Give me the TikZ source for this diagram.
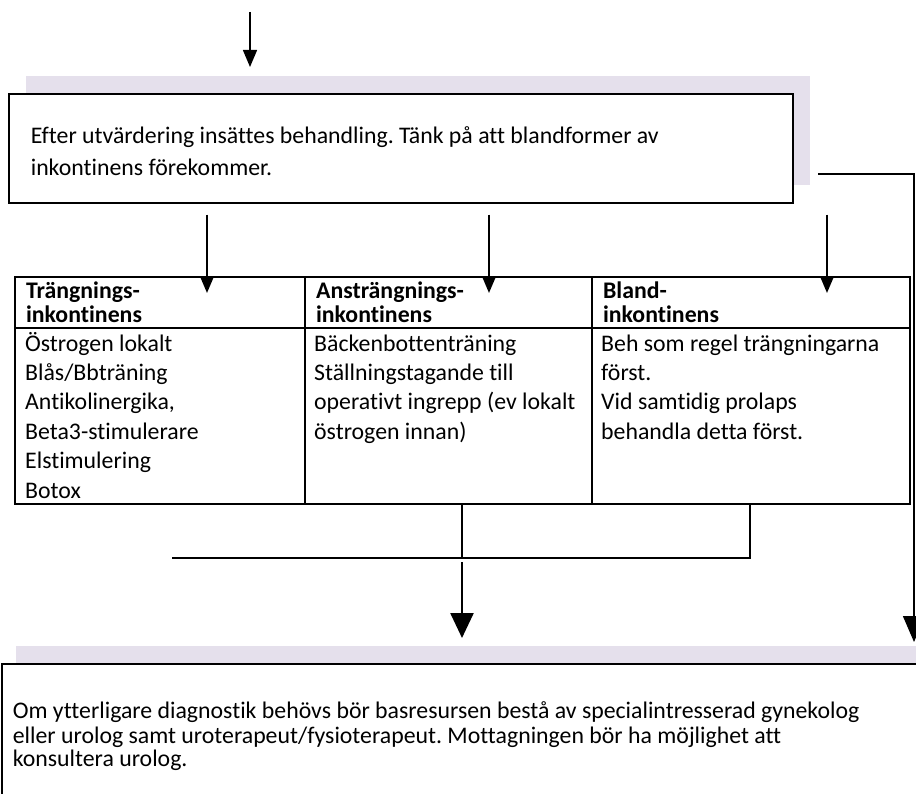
\documentclass[tikz,border=0pt]{standalone}
\usepackage{fontspec}
\setmainfont{Carlito}[Ligatures=NoCommon]
\usetikzlibrary{arrows.meta,shadows}
\definecolor{ShadowLav}{RGB}{229,224,236}
\tikzset{
  flowbox/.style={draw, line width=1.6pt, anchor=north west, align=flush left, fill=white},
  lavshadow/.style={general shadow={shadow xshift=#1, shadow yshift=18pt, fill=ShadowLav}},
  tabcell/.style={draw, line width=2.2pt, anchor=north west, inner sep=0pt},
  headtext/.style={align=flush left, inner xsep=11pt, inner ysep=0pt, font=\bfseries\fontsize{23.8}{24}\selectfont},
  celltext/.style={anchor=north west, inner sep=0pt, align=left, font=\fontsize{23.8}{29.4}\selectfont},
  thinarr/.style={line width=1.5pt, -{Triangle[length=17pt,width=14pt]}},
  colarr/.style={line width=2pt, -{Triangle[length=16pt,width=13pt]}},
  bigarr/.style={line width=2.5pt, -{Triangle[length=25pt,width=23pt]}},
}
\begin{document}
\frenchspacing
\begin{tikzpicture}[x=1pt, y=-1pt]
  \clip (0,0) rectangle (916,794);

  % evaluation box
  \node[flowbox, lavshadow=17pt, minimum height=109pt, text width=740pt, inner xsep=22pt,
        font=\fontsize{23.8}{32}\selectfont] (eval) at (8,93)
        {\strut Efter utvärdering insättes behandling. Tänk på att blandformer av\\inkontinens förekommer.};

  % table of the three kinds
  \node[tabcell, headtext, text width=268pt, minimum height=51pt] (hd1) at (14,276) {\strut Trängnings-\\inkontinens};
  \node[tabcell, headtext, text width=265pt, minimum height=51pt] (hd2) at (304,276) {\strut Ansträngnings-\\inkontinens};
  \node[tabcell, headtext, text width=296pt, minimum height=51pt] (hd3) at (591,276) {\strut Bland-\\inkontinens};
  \node[tabcell, minimum width=290pt, minimum height=176pt] (bd1) at (14,327) {};
  \node[tabcell, minimum width=287pt, minimum height=176pt] (bd2) at (304,327) {};
  \node[tabcell, minimum width=318pt, minimum height=176pt] (bd3) at (591,327) {};
  \node[celltext] (tx1) at (25,330.4) {\strut Östrogen lokalt\\Blås/Bbträning\\Antikolinergika,\\Beta3-stimulerare\\Elstimulering\\Botox};
  \node[celltext] (tx2) at (314,330.4) {\strut Bäckenbottenträning\\Ställningstagande till\\operativt ingrepp (ev lokalt\\östrogen innan)};
  \node[celltext] (tx3) at (601,330.4) {\strut Beh som regel trängningarna\\först.\\Vid samtidig prolaps\\behandla detta först.};

  % referral box
  \node[flowbox, lavshadow=14pt, text width=940pt, inner xsep=11pt, inner ysep=38pt,
        font=\fontsize{23.8}{23}\selectfont] (referral) at (1,663)
        {\strut Om ytterligare diagnostik behövs bör basresursen bestå av specialintresserad gynekolog\\eller urolog samt uroterapeut/fysioterapeut. Mottagningen bör ha möjlighet att\\konsultera urolog.};

  % connectors
  \coordinate (start) at (250,12);
  \draw[thinarr, shorten >=26pt] (start) -- (start |- eval.north);

  \coordinate (c1) at (207,293);
  \coordinate (c2) at (489,293);
  \coordinate (c3) at (827,293);
  \draw[colarr, shorten <=11pt] (c1 |- eval.south) -- (c1);
  \draw[colarr, shorten <=11pt] (c2 |- eval.south) -- (c2);
  \draw[colarr, shorten <=11pt] (c3 |- eval.south) -- (c3);

  \coordinate (rstart) at (818,174);
  \coordinate (rturn) at (914,174);
  \draw[line width=1.5pt, -{Triangle[length=26pt,width=22pt]}, shorten >=21pt]
    (rstart) -- (rturn) -- (rturn |- referral.north);

  \coordinate (jl) at (172,558);
  \coordinate (jm) at (462,558);
  \coordinate (jr) at (750,558);
  \draw[line width=2pt] (jl) -- (jr) -- (jr |- bd3.south);
  \draw[line width=2pt] (jm) -- (jm |- bd2.south);
  \draw[bigarr, shorten <=4pt, shorten >=25pt] (jm) -- (jm |- referral.north);
\end{tikzpicture}
\end{document}
